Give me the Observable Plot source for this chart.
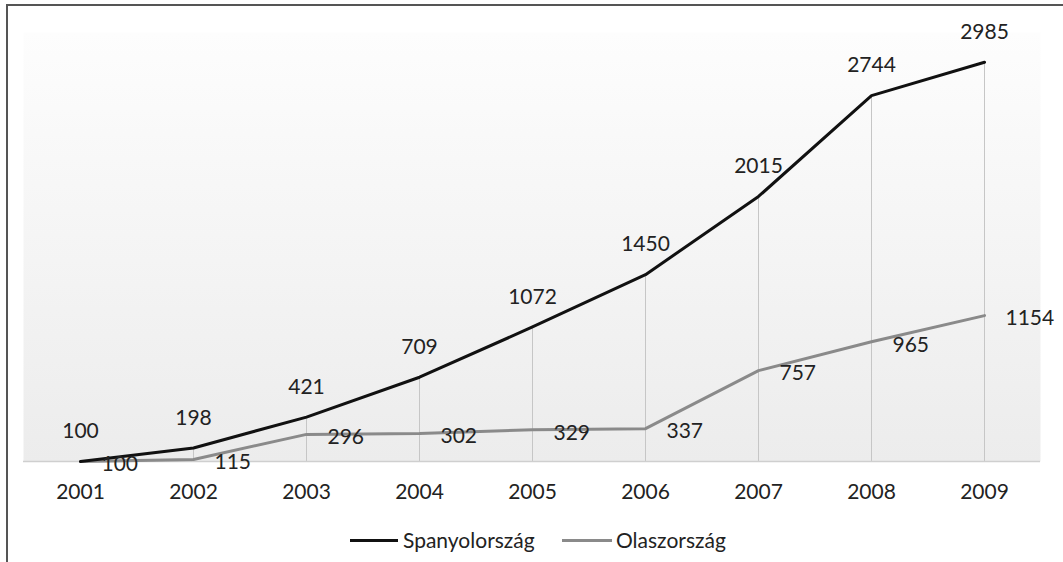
<!DOCTYPE html>
<html>
<head>
<meta charset="utf-8">
<script src="https://cdn.jsdelivr.net/npm/d3@7"></script>
<script src="https://cdn.jsdelivr.net/npm/@observablehq/plot@0.6"></script>
<style>
  body { margin: 0; background: #fff; }
  #frame { position: relative; width: 1063px; height: 562px; overflow: hidden; background: #fff; font-family: Lato, "Open Sans", sans-serif; }
  #border { position: absolute; left: 6px; top: 4px; width: 1060px; height: 600px; border-left: 2px solid #555; border-top: 2px solid #555; }
  #chart { position: absolute; left: 0; top: 0; }
  #legend { position: absolute; left: 0; top: 527px; width: 1063px; height: 26px; }
  .item { position: absolute; top: 0; height: 26px; font-size: 21px; color: #222; line-height: 26px; white-space: nowrap; }
  .swatch { position: absolute; top: 12px; height: 3px; }
</style>
</head>
<body>
<div id="frame">
  <div id="border"></div>
  <div id="chart"></div>
  <div id="legend"></div>
</div>
<script>
const years = ["2001", "2002", "2003", "2004", "2005", "2006", "2007", "2008", "2009"];
const spainValues = [100, 198, 421, 709, 1072, 1450, 2015, 2744, 2985];
const italyValues = [100, 115, 296, 302, 329, 337, 757, 965, 1154];
const seriesNames = ["Spanyolország", "Olaszország"];
const seriesColors = ["#111111", "#8a8a8a"];

const spain = years.map((y, i) => ({year: y, value: spainValues[i]}));
const italy = years.map((y, i) => ({year: y, value: italyValues[i]}));
const yMin = 100;

const chart = Plot.plot({
  width: 1063,
  height: 515,
  marginLeft: 23,
  marginRight: 23,
  marginTop: 32,
  marginBottom: 54,
  style: {fontFamily: "Lato, 'Open Sans', sans-serif", background: "transparent"},
  x: {type: "point", domain: years, padding: 0.5, label: null},
  y: {domain: [yMin, 3200], axis: null},
  marks: [
    Plot.frame({fill: "url(#bggrad)", stroke: null}),
    Plot.ruleX(spain, {x: "year", y1: yMin, y2: "value", stroke: "#c6c6c6", strokeWidth: 1}),
    Plot.ruleY([yMin], {stroke: "#cfcfcf", strokeWidth: 1.5}),
    Plot.axisX({tickSize: 0, tickPadding: 23, fontSize: 21, color: "#222", label: null}),
    Plot.line(italy, {x: "year", y: "value", stroke: seriesColors[1], strokeWidth: 3}),
    Plot.line(spain, {x: "year", y: "value", stroke: seriesColors[0], strokeWidth: 3}),
    Plot.text(spain, {x: "year", y: "value", text: d => String(d.value), dy: -30, fontSize: 21, fill: "#222"}),
    Plot.text(italy, {x: "year", y: "value", text: d => String(d.value), dx: 21, dy: 3, textAnchor: "start", fontSize: 21, fill: "#222"})
  ]
});

const defs = d3.select(chart).insert("defs", ":first-child");
const grad = defs.append("linearGradient").attr("id", "bggrad").attr("x1", 0).attr("y1", 0).attr("x2", 0).attr("y2", 1);
grad.append("stop").attr("offset", "0%").attr("stop-color", "#fdfdfd");
grad.append("stop").attr("offset", "100%").attr("stop-color", "#ececec");

document.getElementById("chart").appendChild(chart);

const legend = document.getElementById("legend");
const legendPos = [{sx: 350, sw: 48, tx: 403}, {sx: 562, sw: 50, tx: 616}];
seriesNames.forEach((name, i) => {
  const sw = document.createElement("div");
  sw.className = "swatch";
  sw.style.left = legendPos[i].sx + "px";
  sw.style.width = legendPos[i].sw + "px";
  sw.style.background = seriesColors[i];
  legend.appendChild(sw);
  const t = document.createElement("div");
  t.className = "item";
  t.style.left = legendPos[i].tx + "px";
  t.textContent = name;
  legend.appendChild(t);
});
</script>
</body>
</html>
